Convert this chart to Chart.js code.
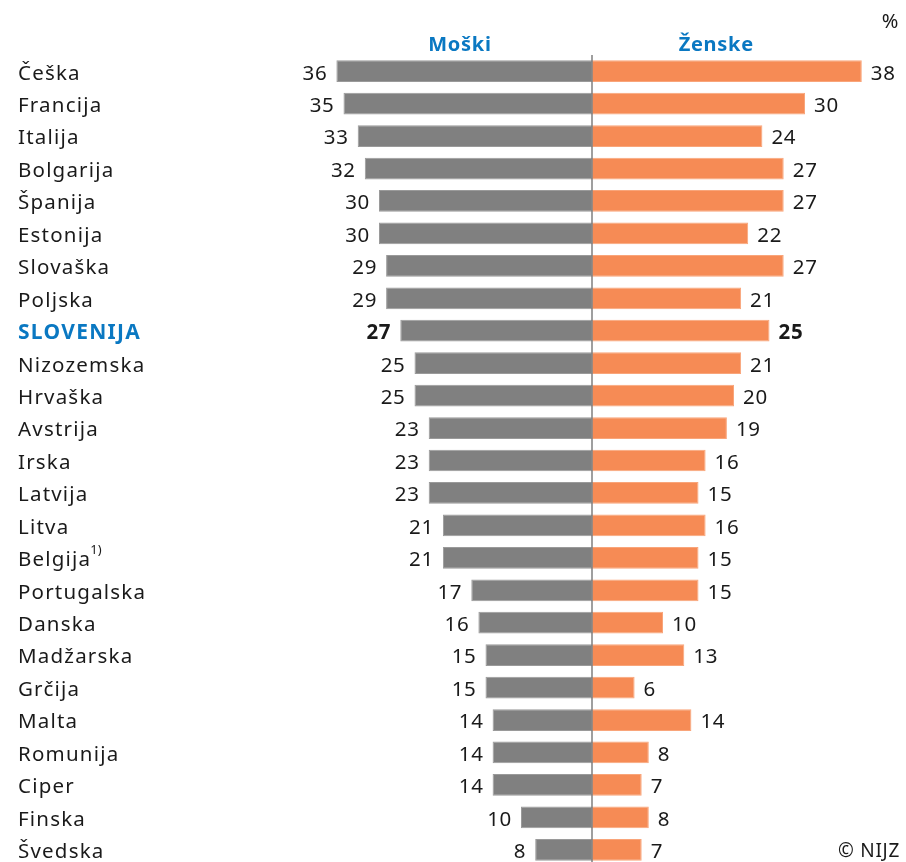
<!DOCTYPE html>
<html>
<head>
<meta charset="utf-8">
<script src="https://cdn.jsdelivr.net/npm/chart.js@4"></script>
<style>
  html, body { margin: 0; padding: 0; background: #fff; overflow: hidden; }
  canvas { display: block; }
</style>
</head>
<body>
<canvas id="myChart" width="906" height="866"></canvas>
<script>
// podatki
var countries = ['Češka', 'Francija', 'Italija', 'Bolgarija', 'Španija', 'Estonija', 'Slovaška', 'Poljska',
  'SLOVENIJA', 'Nizozemska', 'Hrvaška', 'Avstrija', 'Irska', 'Latvija', 'Litva', 'Belgija',
  'Portugalska', 'Danska', 'Madžarska', 'Grčija', 'Malta', 'Romunija', 'Ciper', 'Finska', 'Švedska'];
var moski = [36, 35, 33, 32, 30, 30, 29, 29, 27, 25, 25, 23, 23, 23, 21, 21, 17, 16, 15, 15, 14, 14, 14, 10, 8];
var zenske = [38, 30, 24, 27, 27, 22, 27, 21, 25, 21, 20, 19, 16, 15, 16, 15, 15, 10, 13, 6, 14, 8, 7, 8, 7];
var seriesNames = ['Moški', 'Ženske'];
var footnotes = { 'Belgija': '1)' };
var highlight = 'SLOVENIJA';

var FONT = '"Noto Sans", "Open Sans", sans-serif';
var BLUE = '#0a78c2';
var TXT = 2.5; // zamik besedila navzdol

// risanje napisov, sredinske črte in vrednosti
var labelsPlugin = {
  id: 'labelsPlugin',
  afterDatasetsDraw: function(chart) {
    var ctx = chart.ctx;
    var x = chart.scales.x;
    var y = chart.scales.y;
    var x0 = x.getPixelForValue(0);
    ctx.save();

    // sredinska črta
    ctx.strokeStyle = '#7f7f7f';
    ctx.lineWidth = 1.5;
    ctx.beginPath();
    ctx.moveTo(x0, 55);
    ctx.lineTo(x0, chart.height);
    ctx.stroke();

    ctx.letterSpacing = '0.7px';

    // naslova stolpcev
    ctx.fillStyle = BLUE;
    ctx.font = 'bold 20px ' + FONT;
    ctx.textAlign = 'center';
    ctx.textBaseline = 'middle';
    ctx.fillText(seriesNames[0], x.getPixelForValue(-18.6), 45);
    ctx.fillText(seriesNames[1], x.getPixelForValue(17.5), 45);

    ctx.fillStyle = '#1a1a1a';
    ctx.font = '20px ' + FONT;
    ctx.textAlign = 'right';
    ctx.fillText('%', 899, 22);
    ctx.font = '19px ' + FONT;
    ctx.fillText('© NIJZ', 900, 852);

    // države
    countries.forEach(function(c, i) {
      var py = y.getPixelForValue(i) + TXT;
      ctx.textAlign = 'left';
      if (c === highlight) {
        ctx.fillStyle = BLUE;
        ctx.font = 'bold 21px ' + FONT;
        ctx.letterSpacing = '1.3px';
      } else {
        ctx.fillStyle = '#1a1a1a';
        ctx.font = '20.5px ' + FONT;
        ctx.letterSpacing = '1.2px';
      }
      ctx.fillText(c, 18, py);
      if (footnotes[c]) {
        var w = ctx.measureText(c).width;
        ctx.font = '13px ' + FONT;
        ctx.letterSpacing = '0px';
        ctx.fillText(footnotes[c], 18 + w - 1, py - 10);
      }
    });

    // vrednosti
    ctx.letterSpacing = '0.7px';
    chart.data.datasets.forEach(function(ds, di) {
      var meta = chart.getDatasetMeta(di);
      meta.data.forEach(function(bar, i) {
        var v = Math.abs(ds.data[i]);
        ctx.fillStyle = '#1a1a1a';
        ctx.font = (countries[i] === highlight ? 'bold ' : '') + '20.5px ' + FONT;
        if (di === 0) {
          ctx.textAlign = 'right';
          ctx.fillText(v, bar.x - 9, bar.y + TXT);
        } else {
          ctx.textAlign = 'left';
          ctx.fillText(v, bar.x + 9, bar.y + TXT);
        }
      });
    });
    ctx.restore();
  }
};

var ctx = document.getElementById('myChart').getContext('2d');
var myChart = new Chart(ctx, {
  type: 'bar',
  data: {
    labels: countries,
    datasets: [{
      label: seriesNames[0],
      data: moski.map(function(v) { return -v; }),
      backgroundColor: '#808080',
      borderColor: '#9a9a9a',
      borderWidth: 1,
      borderSkipped: false
    }, {
      label: seriesNames[1],
      data: zenske,
      backgroundColor: '#f68b55',
      borderColor: '#f9a57a',
      borderWidth: 1,
      borderSkipped: false
    }]
  },
  options: {
    indexAxis: 'y',
    responsive: false,
    animation: false,
    layout: { padding: { left: 308, right: 30, top: 55, bottom: 0 } },
    datasets: { bar: { categoryPercentage: 1, barPercentage: 0.67 } },
    scales: {
      x: { display: false, stacked: true, min: -40, max: 40 },
      y: { display: false, stacked: true }
    },
    plugins: {
      legend: { display: false },
      tooltip: { enabled: false }
    }
  },
  plugins: [labelsPlugin]
});
</script>
</body>
</html>
